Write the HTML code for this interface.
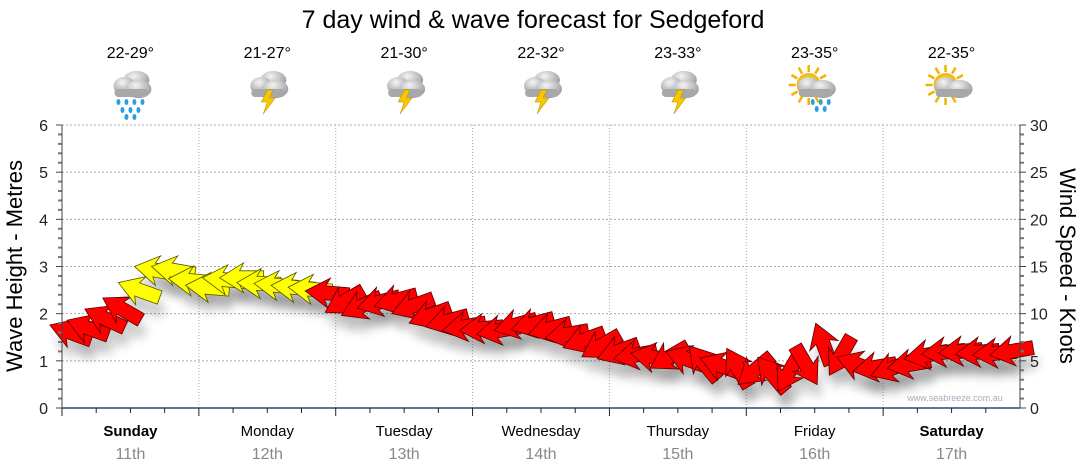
<!DOCTYPE html>
<html><head><meta charset="utf-8"><style>
body{margin:0;background:#fff;font-family:"Liberation Sans",sans-serif;}
svg{display:block}
</style></head><body>
<svg id="chart" width="1080" height="475" xmlns="http://www.w3.org/2000/svg">
<defs>
<filter id="sh" x="-50%" y="-50%" width="200%" height="200%"><feGaussianBlur stdDeviation="5"/></filter>
<radialGradient id="cg" cx="40%" cy="30%" r="70%"><stop offset="0" stop-color="#f4f4f4"/><stop offset="1" stop-color="#9a9a9a"/></radialGradient>
<radialGradient id="sg" cx="50%" cy="50%" r="50%"><stop offset="0" stop-color="#fff26a"/><stop offset="1" stop-color="#f0b400"/></radialGradient>
</defs>
<text x="533" y="28" text-anchor="middle" font-size="25" fill="#000">7 day wind &amp; wave forecast for Sedgeford</text>
<g id="grid"></g><g id="icons"></g><g id="shadows"></g><g id="arrows"></g><g id="axes"></g>
<text x="955" y="401" text-anchor="middle" font-size="9" fill="#aab">www.seabreeze.com.au</text>
<text transform="translate(22,266) rotate(-90)" text-anchor="middle" font-size="22">Wave Height - Metres</text>
<text transform="translate(1060,266) rotate(90)" text-anchor="middle" font-size="22">Wind Speed - Knots</text>
</svg>
<script>
const days=["Sunday","Monday","Tuesday","Wednesday","Thursday","Friday","Saturday"];
const dates=["11th","12th","13th","14th","15th","16th","17th"];
const temps=["22-29°","21-27°","21-30°","22-32°","23-33°","23-35°","22-35°"];
const iconTypes=["rain","storm","storm","storm","storm","sunrain","suncloud"];
const waveTicks=[0,1,2,3,4,5,6];
const windTicks=[0,5,10,15,20,25,30];
// wind every 3h (8 per day)
const windSpeed=[8,8.5,9.5,10.5,12.5,14.6,14.6,13.5, 12.8,13.6,13.8,13.2,13,12.8,12.6,12.2, 11.3,10.8,11.2,11.4,10.8,9.8,9.2,8.6, 8.4,8.2,8.8,8.9,8.4,7.8,7.2,6.6, 6.0,5.6,5.4,5.4,5.2,4.8,4.5,4.3, 4.0,3.6,3.8,4.5,6.8,5.5,4.6,4.3, 4.2,4.6,5.6,5.9,6.0,5.9,5.8,6.0];
const windDir=[200,200,205,210,200,190,190,185, 185,185,180,182,185,185,185,185, 150,155,165,165,160,160,165,170, 175,170,165,165,165,170,160,150, 160,170,190,150,200,230,200,240, 140,230,120,60,250,120,200,170, 160,170,170,175,175,175,175,170];
const windColor=["r","r","r","r","y","y","y","y", "y","y","y","y","y","y","y","r", "r","r","r","r","r","r","r","r", "r","r","r","r","r","r","r","r", "r","r","r","r","r","r","r","r", "r","r","r","r","r","r","r","r", "r","r","r","r","r","r","r","r"];
const X0=62,X1=1020,Y0=408,Y1=125;
const xT=t=>X0+(X1-X0)*t/56;
const yW=v=>Y0-(Y0-Y1)*v/6;
const yK=v=>Y0-(Y0-Y1)*v/30;
const NS="http://www.w3.org/2000/svg";
function mk(tag,attrs,parent,txt){const e=document.createElementNS(NS,tag);for(const k in attrs)e.setAttribute(k,attrs[k]);if(txt!==undefined)e.textContent=txt;parent.appendChild(e);return e;}
const g=document.getElementById('grid'),ax=document.getElementById('axes'),ic=document.getElementById('icons'),sh=document.getElementById('shadows'),ar=document.getElementById('arrows');
waveTicks.forEach(v=>{if(v>0){const l=mk('line',{x1:X0,x2:X1,y1:yW(v),y2:yW(v),stroke:'#aaa','stroke-dasharray':'2,2'},g);}
 const t=mk('text',{x:48,y:yW(v)+6,'text-anchor':'end','font-size':16,fill:'#222'},ax,v);
 mk('line',{x1:X0-6,x2:X0,y1:yW(v),y2:yW(v),stroke:'#444'},ax);
 if(v<6){for(let k=1;k<5;k++){mk('line',{x1:X0-4,x2:X0,y1:yW(v+k/5),y2:yW(v+k/5),stroke:'#777','stroke-width':2},ax);}}});
windTicks.forEach(v=>{const t=mk('text',{x:1030,y:yK(v)+6,'font-size':16,fill:'#222'},ax,v);
 mk('line',{x1:X1,x2:X1+6,y1:yK(v),y2:yK(v),stroke:'#444'},ax);
 if(v<30){for(let k=1;k<5;k++)mk('line',{x1:X1,x2:X1+4,y1:yK(v+k),y2:yK(v+k),stroke:'#777','stroke-width':2},ax);}});
mk('line',{x1:X0,x2:X0,y1:Y1,y2:Y0,stroke:'#444'},ax);
mk('line',{x1:X1,x2:X1,y1:Y1,y2:Y0,stroke:'#444'},ax);
mk('line',{x1:X0,x2:X1,y1:Y0,y2:Y0,stroke:'#1f4f7a','stroke-width':1.5},ax);
for(let d=0;d<7;d++){
 const xa=xT(d*8),xc=xT(d*8+4);
 if(d>0){const l=mk('line',{x1:xa,x2:xa,y1:Y1,y2:Y0,stroke:'#aaa','stroke-dasharray':'1,2'},g);}
 mk('line',{x1:xa,x2:xa,y1:Y0,y2:Y0+8,stroke:'#222'},ax);
 for(let k=1;k<4;k++)mk('line',{x1:xT(d*8+k*2),x2:xT(d*8+k*2),y1:Y0,y2:Y0+5,stroke:'#222'},ax);
 const bold=(d==0||d==6);
 const t1=mk('text',{x:xc,y:436,'text-anchor':'middle','font-size':15,'font-weight':bold?'bold':'normal',fill:'#000'},ax,days[d]);
 const t2=mk('text',{x:xc,y:459,'text-anchor':'middle','font-size':16,fill:'#888'},ax,dates[d]);
 const t3=mk('text',{x:xc,y:58,'text-anchor':'middle','font-size':16,fill:'#000'},ic,temps[d]);
 const gi=mk('g',{transform:`translate(${xc},88)`},ic);
 const ty=iconTypes[d];
 if(ty=='sunrain'||ty=='suncloud'){for(let a=0;a<12;a++){const r=a*30*Math.PI/180;mk('line',{x1:-6+Math.cos(r)*13,y1:-3+Math.sin(r)*13,x2:-6+Math.cos(r)*20,y2:-3+Math.sin(r)*20,stroke:'#f0b400','stroke-width':2.5},gi);}mk('circle',{cx:-6,cy:-3,r:12,fill:'url(#sg)'},gi);}
 if(ty!='suncloud'&&ty!='sunrain'){mk('ellipse',{cx:6,cy:-8,rx:13,ry:9,fill:'url(#cg)'},gi);}
 mk('ellipse',{cx:-6,cy:-2,rx:11,ry:9,fill:'url(#cg)'},gi);
 mk('ellipse',{cx:8,cy:1,rx:13,ry:9,fill:'url(#cg)'},gi);
 mk('rect',{x:-16,y:1,width:34,height:8,rx:4,fill:'#a8a8a8'},gi);
 if(ty=='rain'||ty=='sunrain'){const n=ty=='rain'?[[-12,14],[-4,14],[4,14],[12,14],[-8,22],[0,22],[8,22],[-4,29],[4,29]]:[[-2,14],[6,14],[14,14],[2,21],[10,21]];n.forEach(p=>mk('ellipse',{cx:p[0],cy:p[1],rx:2,ry:3,fill:'#2aa0e0'},gi));}
 if(ty=='storm'){mk('polygon',{points:'0,2 -6,14 0,14 -4,26 8,10 2,10 6,2',fill:'#f5c800',stroke:'#c08000','stroke-width':0.5},gi);}
}
const pts="-22,-7 2,-7 -2,-15 22,0 -2,15 2,7 -22,7";
for(let i=0;i<windSpeed.length;i++){
 const x=xT(i+0.5),y=yK(windSpeed[i]),rot=windDir[i];
 const s=mk('polygon',{points:pts,transform:`translate(${x+4},${y+14}) rotate(${rot})`,fill:'#000',opacity:0.2,filter:'url(#sh)'},sh);
 
 const a=mk('polygon',{points:pts,transform:`translate(${x},${y}) rotate(${rot})`,fill:windColor[i]=='y'?'#ffff00':'#ff0000',stroke:windColor[i]=='y'?'#555500':'#550000','stroke-width':0.8},ar);
 
}
</script>
</body></html>
